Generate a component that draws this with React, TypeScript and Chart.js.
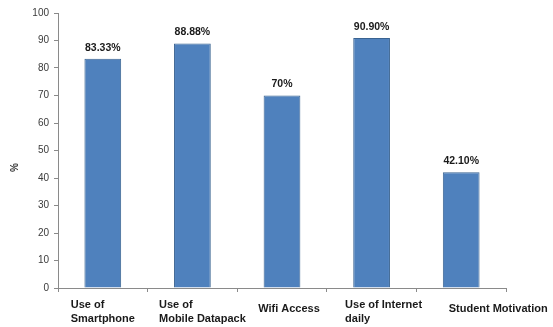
import React, { useEffect, useRef } from "react";
import { Chart, registerables } from "chart.js";

Chart.register(...registerables);

const categories: string[][] = [
  ["Use of", "Smartphone"],
  ["Use of", "Mobile Datapack"],
  ["Wifi Access"],
  ["Use of Internet", "daily"],
  ["Student Motivation"],
];
const values: number[] = [83.33, 88.88, 70, 90.9, 42.1];
const valueLabels: string[] = ["83.33%", "88.88%", "70%", "90.90%", "42.10%"];
const yAxisTitle = "%";

// horizontal nudges of label blocks (style only)
const labelShift = [0, 10, 7, 12, 37];

const FONT = "'Liberation Sans', Arial, sans-serif";

export default function App() {
  const ref = useRef<HTMLCanvasElement | null>(null);

  useEffect(() => {
    if (!ref.current) return;
    const labelPlugin = {
      id: "customLabels",
      afterDatasetsDraw(chart: any) {
        const ctx = chart.ctx;
        const meta = chart.getDatasetMeta(0);
        const area = chart.chartArea;
        ctx.save();
        ctx.fillStyle = "#1a1a1a";
        ctx.font = `bold 10.5px ${FONT}`;
        ctx.textAlign = "center";
        ctx.textBaseline = "middle";
        meta.data.forEach((bar: any, i: number) => {
          ctx.fillText(valueLabels[i], bar.x, bar.y - 11);
        });
        // x category labels, left-aligned within a centered block
        const xs = chart.scales.x;
        ctx.font = `bold 11px ${FONT}`;
        ctx.textAlign = "left";
        ctx.textBaseline = "alphabetic";
        categories.forEach((lines, i) => {
          const w = Math.max(...lines.map((l) => ctx.measureText(l).width));
          const cx = xs.getPixelForTick(i) + labelShift[i];
          const left = cx - w / 2;
          const top = lines.length > 1 ? 308 : 312;
          lines.forEach((l, j) => {
            ctx.fillText(l, left, top + j * 14);
          });
        });
        // y axis title
        ctx.save();
        ctx.translate(15, (area.top + area.bottom) / 2 + 17);
        ctx.rotate(-Math.PI / 2);
        ctx.textAlign = "center";
        ctx.textBaseline = "middle";
        ctx.font = `bold 10px ${FONT}`;
        ctx.fillStyle = "#333";
        ctx.fillText(yAxisTitle, 0, 0);
        ctx.restore();
        ctx.restore();
      },
    };

    const chart = new Chart(ref.current, {
      type: "bar",
      data: {
        labels: categories.map((c) => c.join(" ")),
        datasets: [
          {
            data: values,
            backgroundColor: "#4F81BD",
            borderColor: "#3A6391",
            borderWidth: 1,
            categoryPercentage: 1,
            barPercentage: 0.41,
          },
        ],
      },
      options: {
        animation: false,
        responsive: false,
        maintainAspectRatio: false,
        layout: { padding: { top: 13, right: 47, left: 0, bottom: 0 } },
        plugins: {
          legend: { display: false },
          tooltip: { enabled: false },
        },
        scales: {
          x: {
            grid: {
              display: true,
              drawOnChartArea: false,
              tickLength: 4,
              color: "#8a8a8a",
              offset: true,
            },
            border: { display: true, color: "#8a8a8a", width: 1 },
            ticks: { display: false },
            afterFit(scale: any) {
              scale.height = 39;
            },
          },
          y: {
            min: 0,
            max: 100,
            ticks: {
              stepSize: 10,
              color: "#3a3a3a",
              font: { family: FONT, size: 10 },
              padding: 5,
            },
            grid: {
              display: true,
              drawOnChartArea: false,
              tickLength: 4,
              color: "#8a8a8a",
            },
            border: { display: true, color: "#8a8a8a", width: 1 },
            afterFit(scale: any) {
              scale.width = 58;
            },
          },
        },
      },
      plugins: [labelPlugin],
    });
    return () => chart.destroy();
  }, []);

  return (
    <div style={{ position: "fixed", left: 0, top: 0, width: 553, height: 327, background: "#fff" }}>
      <canvas ref={ref} width={553} height={327} style={{ width: 553, height: 327 }} />
    </div>
  );
}
